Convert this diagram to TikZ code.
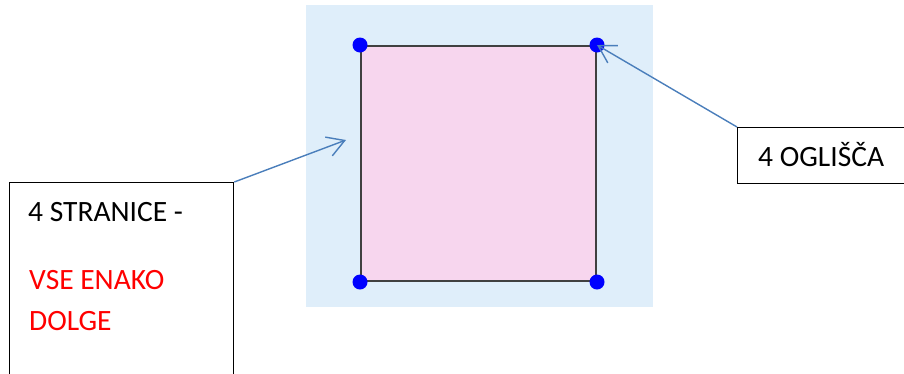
\documentclass[tikz,border=0pt]{standalone}
\usepackage{fontspec}
\setmainfont{Carlito}
\usepackage{tikz}
\usetikzlibrary{arrows.meta}

\definecolor{bgblue}{HTML}{DFEEFA}
\definecolor{sqpink}{HTML}{F7D6EE}
\definecolor{arrowblue}{HTML}{4A7EBB}

\begin{document}
\begin{tikzpicture}[x=1pt,y=-1pt,
    vertex/.style={shape=circle,fill=blue,inner sep=0pt,minimum size=15pt},
    labelbox/.style={draw=black,line width=1.3pt,anchor=north west,inner sep=0pt},
    pointer/.style={draw=arrowblue,line width=1.4pt,-{Straight Barb[length=17pt,width=20pt,line width=1.4pt]}},
    txt/.style={anchor=base west,inner sep=0pt,font=\fontsize{29.5}{35}\selectfont}]
    \clip (0,0) rectangle (904,373);
    \useasboundingbox (0,0) rectangle (904,373);
    % background and square
    \fill[bgblue] (306,5) rectangle (653,307);
    \node[shape=rectangle,fill=sqpink,draw=black!75,line width=2pt,anchor=north west,inner sep=0pt,minimum width=235pt,minimum height=235pt] (sq) at (360,45) {};
    \node[vertex] (A) at (sq.north west) {};
    \node[vertex] (B) at (sq.north east) {};
    \node[vertex] (C) at (sq.south east) {};
    \node[vertex] (D) at (sq.south west) {};
    % text boxes
    \node[labelbox,minimum width=224pt,minimum height=230pt] (stranice) at (9,182) {};
    \node[labelbox,minimum width=200pt,minimum height=56pt] (oglisca) at (737,127) {};
    \node[txt] (t1) at (28,221) {4 STRANICE -};
    \node[txt,text=red] (t2) at (29,289) {VSE ENAKO};
    \node[txt,text=red] (t3) at (29,330) {DOLGE};
    \node[txt] (t4) at (758,166) {4 OGLIŠČA};
    % arrows
    \coordinate (side) at (346,140);
    \path[pointer] (stranice.north east) -- (side);
    \path[pointer] (oglisca.north west) -- (B.center);
\end{tikzpicture}
\end{document}
